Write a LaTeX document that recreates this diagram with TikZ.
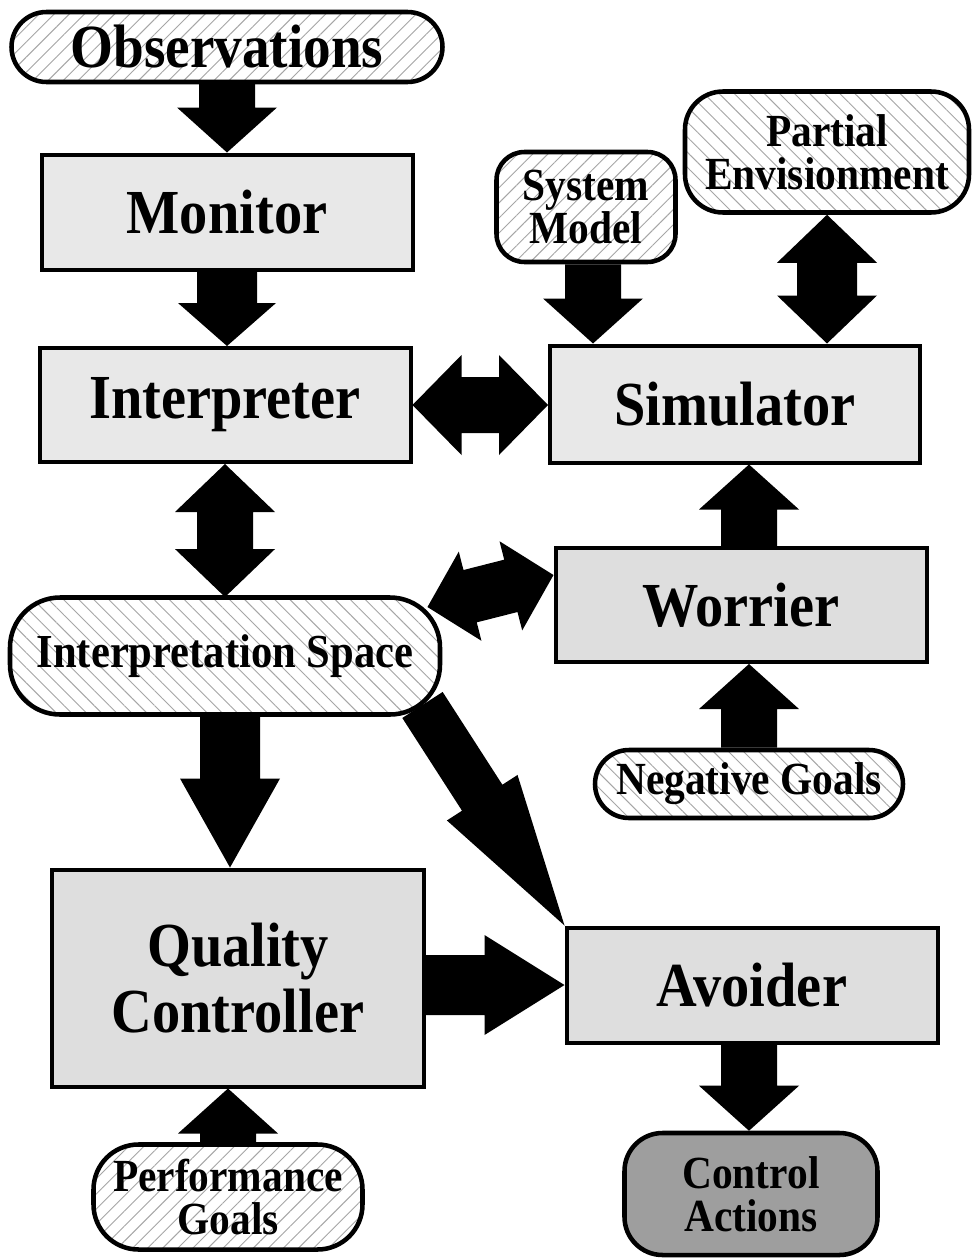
\documentclass[tikz,border=0pt]{standalone}
\usepackage{fontspec}
\setmainfont[FakeStretch=0.9]{Liberation Serif}
\usetikzlibrary{calc,patterns.meta}
\pgfdeclarelayer{bg}
\pgfsetlayers{bg,main}
% single block arrow: tail, tip, shaft half width, head half width, head length (px)
\newcommand\sarrow[5]{%
  \path ($(#2)!#5*0.75pt!(#1)$) coordinate (hb);
  \fill[arr] ($(#1)!#3*0.75pt!90:(#2)$) -- ($(hb)!#3*0.75pt!90:(#2)$) -- ($(hb)!#4*0.75pt!90:(#2)$) -- (#2) -- ($(hb)!#4*0.75pt!-90:(#2)$) -- ($(hb)!#3*0.75pt!-90:(#2)$) -- ($(#1)!#3*0.75pt!-90:(#2)$) -- cycle;}
% double block arrow
\newcommand\darrow[5]{%
  \path ($(#2)!#5*0.75pt!(#1)$) coordinate (hb) ($(#1)!#5*0.75pt!(#2)$) coordinate (ha);
  \fill[arr] (#1) -- ($(ha)!#4*0.75pt!90:(#2)$) -- ($(ha)!#3*0.75pt!90:(#2)$) -- ($(hb)!#3*0.75pt!90:(#2)$) -- ($(hb)!#4*0.75pt!90:(#2)$) -- (#2) -- ($(hb)!#4*0.75pt!-90:(#2)$) -- ($(hb)!#3*0.75pt!-90:(#2)$) -- ($(ha)!#3*0.75pt!-90:(#2)$) -- ($(ha)!#4*0.75pt!-90:(#2)$) -- cycle;}
\tikzset{
  arr/.style={fill=black},
  sz/.style 2 args={minimum width=#1*0.75pt, minimum height=#2*0.75pt},
  box/.style={draw, line width=3pt, fill=black!9, align=center, inner sep=0pt,
    font=\fontsize{47}{49}\selectfont\bfseries},
  pill/.style={draw, line width=3.4pt, preaction={fill=white}, align=center, inner sep=0pt,
    font=\fontsize{34.5}{32}\selectfont\bfseries},
  hne/.style={pattern={Lines[angle=45,distance=8pt,line width=0.7pt]}, pattern color=black!35},
  hnw/.style={pattern={Lines[angle=-45,distance=8pt,line width=0.7pt]}, pattern color=black!35},
}
\begin{document}
\begin{tikzpicture}[x=0.75pt,y=-0.75pt]
\useasboundingbox (0,0) rectangle (973,1260);
% left column
\node[pill, hne, sz={431}{70}, rounded corners=35*0.75pt, font=\fontsize{46}{46}\selectfont\bfseries] (obs) at (227,47) {Observations};
\node[box, sz={371}{115}] (mon) at (227,212) {Monitor};
\node[box, sz={371}{114}] (int) at (225,405) {Interpreter};
\node[pill, hnw, sz={430}{117}, rounded corners=50*0.75pt, font=\fontsize{35.5}{30}\selectfont\bfseries] (isp) at (225,656) {Interpretation Space};
\node[box, fill=black!13, sz={372}{217}] (qc) at (238,978) {Quality\\Controller};
\node[pill, hne, sz={269}{105}, rounded corners=45*0.75pt] (pg) at (228,1197) {Performance\\Goals};
% right column
\node[pill, hne, sz={179}{110}, rounded corners=28*0.75pt] (sm) at (586,207) {System\\Model};
\node[pill, hnw, sz={284}{121}, rounded corners=38*0.75pt] (pe) at (827,152) {Partial\\Envisionment};
\node[box, sz={370}{117}] (sim) at (735,404) {Simulator};
\node[box, fill=black!13, sz={371}{114}] (wor) at (741,605) {Worrier};
\node[pill, hnw, sz={308}{68}, rounded corners=34*0.75pt] (ng) at (749,784) {Negative Goals};
\node[box, fill=black!13, sz={371}{115}] (av) at (752,985) {Avoider};
\node[pill, line width=3.4pt, fill=black!38, sz={253}{122}, rounded corners=38*0.75pt] (ca) at (751,1194) {Control\\Actions};
% arrows
\begin{pgfonlayer}{bg}
\fill[white] (0,0) rectangle (973,1260);
\coordinate (t1) at (obs.south |- mon.north);
\sarrow{obs.south}{t1}{28}{50}{45}
\coordinate (t2) at (mon.south |- int.north);
\sarrow{mon.south}{t2}{30}{49}{43}
\coordinate (t3) at (int.south |- isp.north);
\darrow{int.south}{t3}{28}{50}{48}
\coordinate (t4) at (sim.west |- int.east);
\darrow{int.east}{t4}{28}{50}{49}
\coordinate (s5) at ([xshift=3.75pt]isp.south);
\coordinate (t5) at (s5 |- qc.north);
\sarrow{s5}{t5}{30}{50}{89}
\coordinate (s6) at ($(isp.south east)+(-18,-10)$);
\sarrow{s6}{av.north west}{24}{42}{152}
\coordinate (s7) at ($(isp.north east)+(-13,10)$);
\coordinate (t7) at ($(wor.west)+(0,-30)$);
\darrow{s7}{t7}{27}{46}{44}
\coordinate (s8) at (qc.east |- av.west);
\sarrow{s8}{av.west}{30}{50}{80}
\coordinate (t9) at (pg.north |- qc.south);
\sarrow{pg.north}{t9}{28}{50}{45}
\coordinate (s10) at ([xshift=5.25pt]sm.south);
\coordinate (t10) at (s10 |- sim.north);
\sarrow{s10}{t10}{28}{50}{45}
\coordinate (t11) at (pe.south |- sim.north);
\darrow{pe.south}{t11}{30}{50}{48}
\coordinate (s12) at (ng.north |- wor.north);
\coordinate (t12) at (ng.north |- sim.south);
\sarrow{s12}{t12}{28}{50}{45}
\coordinate (t13) at (ng.north |- wor.south);
\sarrow{ng.north}{t13}{28}{50}{45}
\coordinate (s14) at (ng.north |- av.south);
\coordinate (t14) at (ng.north |- ca.north);
\sarrow{s14}{t14}{28}{50}{45}
\end{pgfonlayer}
\end{tikzpicture}
\end{document}
